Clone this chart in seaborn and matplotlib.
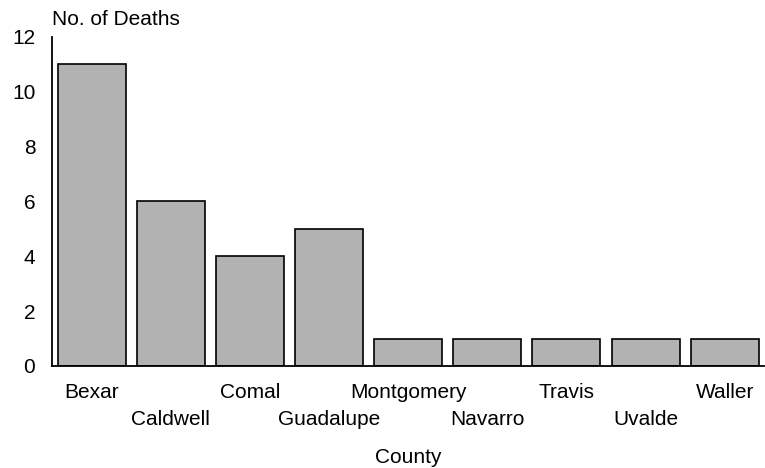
import matplotlib
matplotlib.use('Agg')
import matplotlib.pyplot as plt
import seaborn as sns
import pandas as pd

# Deaths per county
counties = ['Bexar', 'Caldwell', 'Comal', 'Guadalupe', 'Montgomery',
            'Navarro', 'Travis', 'Uvalde', 'Waller']
deaths = [11, 6, 4, 5, 1, 1, 1, 1, 1]
y_ticks = [0, 2, 4, 6, 8, 10, 12]

df = pd.DataFrame({'County': counties, 'Deaths': deaths})

sns.set_theme(style='white')
plt.rcParams['font.family'] = ['Liberation Sans', 'DejaVu Sans']

FS = 15

fig = plt.figure(figsize=(7.65, 4.68), dpi=100)
ax = fig.add_axes([0.068, 0.218, 0.931, 0.703])

sns.barplot(data=df, x='County', y='Deaths', color='#b2b2b2',
            edgecolor='black', linewidth=1.2, width=0.86, saturation=1, ax=ax)

ax.set_ylim(0, 12)
ax.set_xlim(-0.5, len(counties) - 0.5)
ax.set_yticks(y_ticks)
ax.tick_params(axis='both', length=0, labelsize=FS, colors='black')
ax.tick_params(axis='y', pad=12)

# staggered county labels
for i, tick in enumerate(ax.xaxis.get_major_ticks()):
    tick.set_pad(12.5 if i % 2 == 0 else 31.5)

for side in ['top', 'right']:
    ax.spines[side].set_visible(False)
for side in ['left', 'bottom']:
    ax.spines[side].set_color('black')
    ax.spines[side].set_linewidth(1.3)

ax.set_ylabel('')
ax.set_xlabel('County', fontsize=FS, labelpad=14, color='black')
ax.text(0, 1.025, 'No. of Deaths', transform=ax.transAxes, ha='left', va='bottom',
        fontsize=FS, color='black')

fig.savefig('out.png', dpi=100)
